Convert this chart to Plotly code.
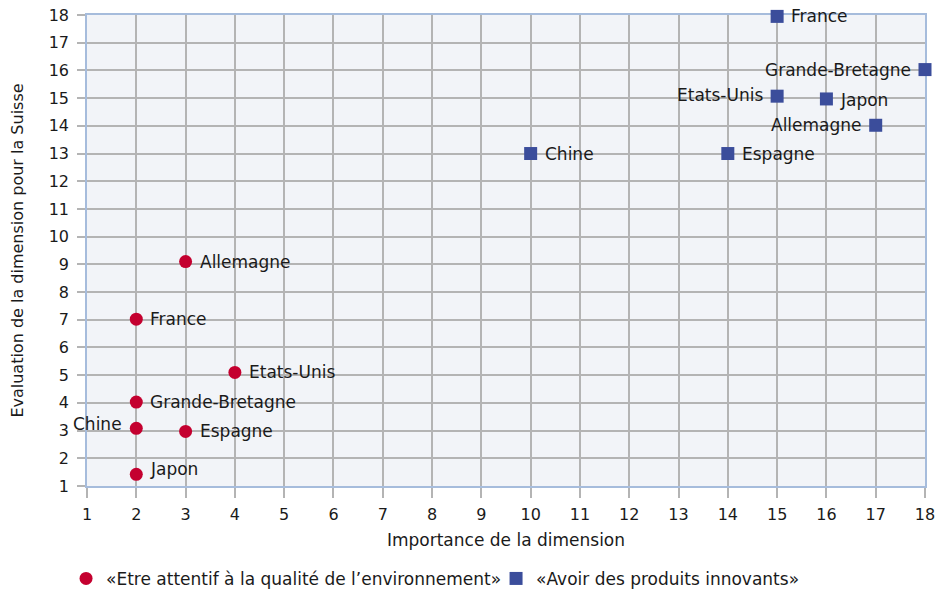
import plotly.graph_objects as go

# Series 1: «Etre attentif à la qualité de l'environnement»
env_names = ["Allemagne", "France", "Etats-Unis", "Grande-Bretagne", "Chine", "Espagne", "Japon"]
env_x = [3, 2, 4.0, 2, 2, 3, 2]
env_y = [9.1, 7.02, 5.1, 4.03, 3.08, 2.97, 1.42]
env_side = ["right", "right", "right", "right", "left", "right", "right"]
env_up = [0, 0, 0, 0, 4, 0, 5]

# Series 2: «Avoir des produits innovants»
inn_names = ["France", "Grande-Bretagne", "Etats-Unis", "Japon", "Allemagne", "Chine", "Espagne"]
inn_x = [15, 18, 15, 16, 17, 10, 14]
inn_y = [17.95, 16.03, 15.07, 14.97, 14.02, 13.0, 13.0]
inn_side = ["right", "left", "left", "right", "left", "right", "right"]
inn_up = [0, 0, 1, -1, 0, 0, 0]

ticks = list(range(1, 19))

FONT = "DejaVu Sans"
TXT = "#1a1a1a"
GRID = "#b4b4b4"
fig = go.Figure()
fig.add_trace(go.Scatter(
    x=env_x, y=env_y, mode="markers",
    marker=dict(symbol="circle", size=13, color="#c4002f"),
    name="«Etre attentif à la qualité de l’environnement»", cliponaxis=False))
fig.add_trace(go.Scatter(
    x=inn_x, y=inn_y, mode="markers",
    marker=dict(symbol="square", size=13, color="#3b4d9b"),
    name="«Avoir des produits innovants»", cliponaxis=False))

for names, xs, ys, sides, ups in [(env_names, env_x, env_y, env_side, env_up),
                                  (inn_names, inn_x, inn_y, inn_side, inn_up)]:
    for n, x, y, s, u in zip(names, xs, ys, sides, ups):
        fig.add_annotation(x=x, y=y, text=n, showarrow=False,
                           xanchor="left" if s == "right" else "right",
                           xshift=12 if s == "right" else -12, yshift=u,
                           font=dict(family=FONT, size=17, color=TXT))

fig.update_layout(
    width=942, height=582,
    margin=dict(l=79, r=25, t=7, b=104, autoexpand=False),
    paper_bgcolor="white", plot_bgcolor="#f2f4f8",
    font=dict(family=FONT, size=17, color=TXT),
    legend=dict(orientation="h", x=-0.025, xanchor="left", y=-0.159, yanchor="top",
                font=dict(family=FONT, size=17), itemwidth=30, tracegroupgap=0,
                entrywidth=385),
    showlegend=True,
)
fig.update_xaxes(range=[1, 18], tickvals=ticks, showgrid=True, gridcolor=GRID, gridwidth=1.5,
                 zeroline=False, showline=True, linecolor="#a6bcdc", mirror=True, linewidth=1.5,
                 ticks="outside", ticklen=10, tickcolor=GRID, tickwidth=1.5, automargin=False,
                 ticklabelstandoff=3, tickfont=dict(size=16), layer="below traces",
                 ticklabeloverflow="allow",
                 title=dict(text="Importance de la dimension", font=dict(size=17), standoff=11))
fig.update_yaxes(range=[1, 18], tickvals=ticks, showgrid=True, gridcolor=GRID, gridwidth=1.5,
                 zeroline=False, showline=True, linecolor="#a6bcdc", mirror=True, linewidth=1.5,
                 ticks="outside", ticklen=8, tickcolor=GRID, tickwidth=1.5, automargin=False,
                 ticklabelstandoff=5, tickfont=dict(size=16), layer="below traces",
                 ticklabeloverflow="allow",
                 title=dict(text="Evaluation de la dimension pour la Suisse", font=dict(size=16), standoff=34))
fig.write_html("out.html")
